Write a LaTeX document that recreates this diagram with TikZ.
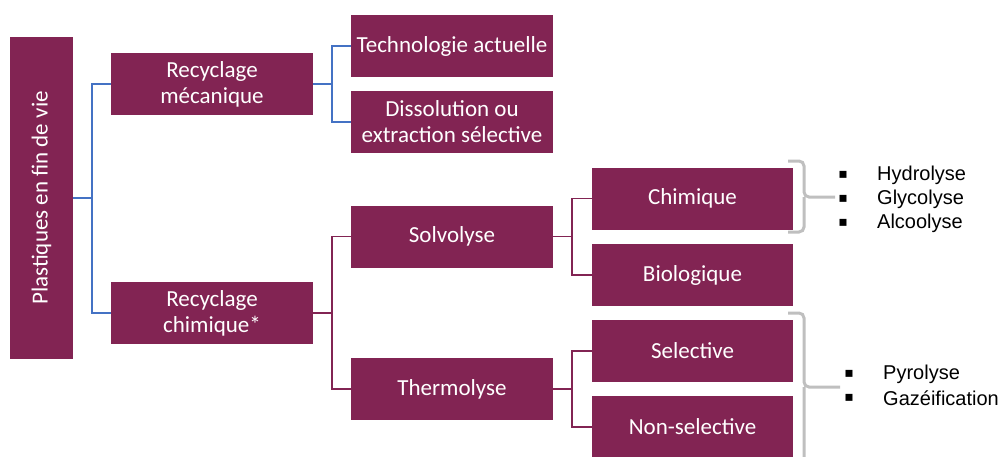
\documentclass[tikz,border=0pt]{standalone}
\usepackage{fontspec}
\setmainfont{Carlito}
\newfontfamily\arialf{Liberation Sans}
\newfontfamily\dejavu{DejaVu Sans}
\definecolor{boxpurple}{HTML}{822453}
\definecolor{lineblue}{HTML}{4472C4}
\definecolor{brgrey}{HTML}{BFBFBF}
\begin{document}
\begin{tikzpicture}[x=1pt,y=-1pt,
  box/.style={fill=boxpurple,draw=none,inner sep=0pt,text=white,align=center,
    font=\fontsize{23}{26}\selectfont,minimum height=62pt},
  wbox/.style={box,minimum width=202pt},
  bline/.style={draw=lineblue,line width=1.4pt},
  pline/.style={draw=boxpurple,line width=1.4pt},
  brace/.style={draw=brgrey,line width=3pt,rounded corners=5pt},
  item/.style={font=\arialf\fontsize{20}{24}\selectfont,anchor=west,inner sep=0pt},
  bul/.style={font=\dejavu\fontsize{14}{14}\selectfont,inner sep=0pt}]
\useasboundingbox (0,0) rectangle (1003,456);
\begin{scope}
\clip (0,0) rectangle (1003,456);
% boxes
\node[box,minimum width=63pt,minimum height=322pt] (root) at (41.5,198) {};
\node[rotate=90,text=white,font=\fontsize{23}{26}\selectfont,inner sep=0pt] (roottext) at (root.center) {Plastiques en fin de vie};
\node[wbox] (mec) at (212,84) {Recyclage\\mécanique};
\node[wbox] (chim) at (212,313) {Recyclage\\chimique*};
\node[wbox] (tech) at (452,46) {Technologie actuelle};
\node[wbox] (diss) at (452,122) {Dissolution ou\\extraction sélective};
\node[wbox] (solv) at (452,236.5) {Solvolyse};
\node[wbox] (therm) at (452,389) {Thermolyse};
\node[box,minimum width=201pt] (chq) at (692.5,198.5) {Chimique};
\node[box,minimum width=201pt] (bio) at (692.5,275) {Biologique};
\node[box,minimum width=201pt] (sel) at (692.5,351) {Selective};
\node[box,minimum width=201pt] (nsel) at (692.5,427) {Non-selective};
% connectors
\draw[bline] (root.east) -- (92,198) |- (mec.west);
\draw[bline] (92,198) |- (chim.west);
\draw[bline] (mec.east) -- (332,84) |- (tech.west);
\draw[bline] (332,84) |- (diss.west);
\draw[pline] (chim.east) -- (332,313) |- (solv.west);
\draw[pline] (332,313) |- (therm.west);
\draw[pline] (solv.east) -- (572,236.5) |- (chq.west);
\draw[pline] (572,236.5) |- (bio.west);
\draw[pline] (therm.east) -- (572,389) |- (sel.west);
\draw[pline] (572,389) |- (nsel.west);
% braces
\coordinate (b1top) at (788,161);
\coordinate (b1bot) at (788,232);
\coordinate (b1tip) at (835,197);
\draw[brace] (b1top) -- (804,161) -- (804,197) -- (b1tip);
\draw[brace] (b1bot) -- (804,232) -- (804,197);
\coordinate (b2top) at (788,313);
\coordinate (b2bot) at (788,470);
\coordinate (b2tip) at (840,387);
\draw[brace] (b2top) -- (804,313) -- (804,387) -- (b2tip);
\draw[brace] (b2bot) -- (804,470) -- (804,387);
\end{scope}
% lists
\node[bul] (u1) at (843,175) {▪};
\node[item] (t1) at (877,175) {Hydrolyse};
\node[bul] (u2) at (843,199) {▪};
\node[item] (t2) at (877,199) {Glycolyse};
\node[bul] (u3) at (843,223) {▪};
\node[item] (t3) at (877,223) {Alcoolyse};
\node[bul] (u4) at (849,374) {▪};
\node[item] (t4) at (883,374) {Pyrolyse};
\node[bul] (u5) at (849,398) {▪};
\node[item] (t5) at (883,398) {Gazéification};
\end{tikzpicture}
\end{document}
